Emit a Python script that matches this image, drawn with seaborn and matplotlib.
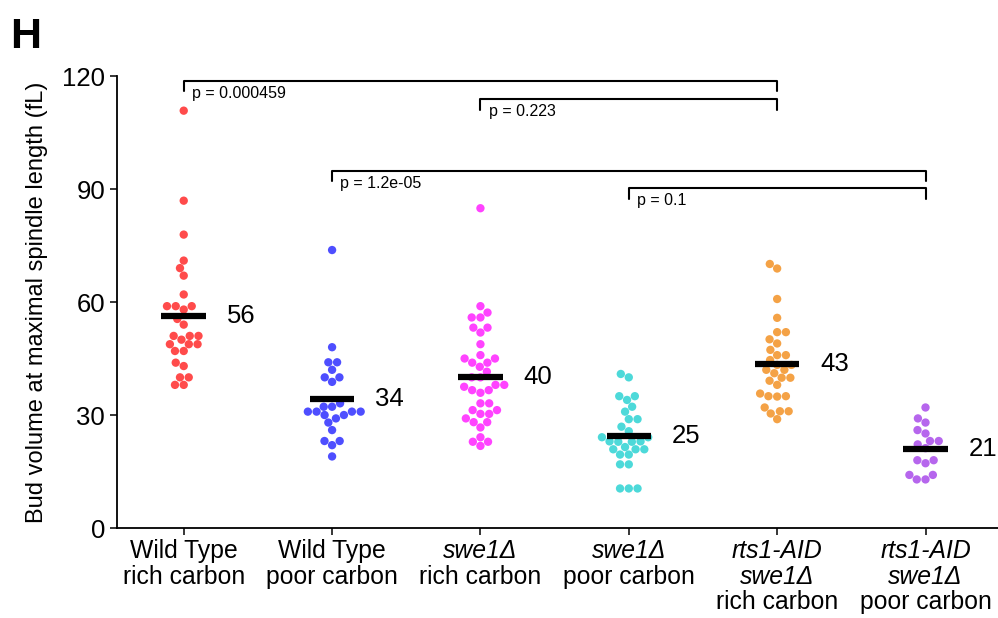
import numpy as np
import pandas as pd
import seaborn as sns
import matplotlib.pyplot as plt

# bud volume (fL) per strain / carbon source
wt_rich = [110.8, 86.9, 77.9, 71, 69, 67, 62, 58.9, 58.9, 58.9, 58, 55.5, 54,
           51, 51, 51, 50, 48.8, 48.8, 48.8, 47, 47, 43.9, 43, 40, 40, 38, 38]
wt_poor = [73.8, 48, 44, 44, 42, 40, 40, 38.8, 33.1, 32.2, 32.2, 30.9, 30.9,
           30.9, 30.9, 30, 30, 29.1, 28, 26, 23.1, 23.1, 22, 19]
swe1_rich = [84.9, 58.9, 57.2, 55.9, 55.9, 53.2, 53.2, 51.9, 48.8, 45.9, 45, 45,
             43.9, 43.9, 42.8, 41.5, 40, 40, 38, 38, 37.5, 36.6, 36.6, 35.9,
             33.1, 33.1, 31.3, 31.3, 30.3, 30.3, 29.1, 28.1, 28.1, 26.7, 24.1,
             22.9, 22.9, 21.8]
swe1_poor = [40.9, 40, 35, 35, 34, 32.2, 30.9, 28.9, 28.9, 26.9, 25.7, 24.1,
             24.1, 22.9, 22.9, 23, 23, 20.9, 20.9, 20.9, 21.5, 19.5, 19.5,
             16.9, 16.9, 10.5, 10.5, 10.5]
rts1_rich = [70.1, 68.9, 60.8, 55.8, 52, 52, 50.1, 49, 47.3, 45.9, 45.9, 44.6,
             43.3, 43.3, 42, 42, 41.1, 39.9, 39.9, 39.1, 38, 35, 35, 35.7, 34.9,
             32, 31, 31, 30.4, 28.9]
rts1_poor = [32, 29.1, 28, 26, 25.1, 23.1, 23.1, 22.2, 21.2, 18, 18, 17.2,
             14.1, 14.1, 12.9, 12.9]

groups = ["wt_rich", "wt_poor", "swe1_rich", "swe1_poor", "rts1_rich", "rts1_poor"]
values = [wt_rich, wt_poor, swe1_rich, swe1_poor, rts1_rich, rts1_poor]
colors = ["#FF2B2B", "#2F2FFF", "#FF22FF", "#2ED3D3", "#F39226", "#A94BEA"]

# tick label lines: (text, italic)
tick_lines = [
    [("Wild Type", False), ("rich carbon", False)],
    [("Wild Type", False), ("poor carbon", False)],
    [("swe1\u0394", True), ("rich carbon", False)],
    [("swe1\u0394", True), ("poor carbon", False)],
    [("rts1-AID", True), ("swe1\u0394", True), ("rich carbon", False)],
    [("rts1-AID", True), ("swe1\u0394", True), ("poor carbon", False)],
]

# comparisons: (group a, group b, bracket height, p label)
comparisons = [
    (0, 4, 118.7, "p = 0.000459"),
    (2, 4, 113.8, "p = 0.223"),
    (1, 5, 94.8, "p = 1.2e-05"),
    (3, 5, 90.2, "p = 0.1"),
]

df = pd.DataFrame({
    "group": np.repeat(groups, [len(v) for v in values]),
    "volume": np.concatenate(values),
})

sns.set_style("ticks")
plt.rcParams["font.family"] = ["Liberation Sans", "DejaVu Sans"]
for key in ["text.color", "axes.labelcolor", "xtick.color", "ytick.color",
            "axes.edgecolor"]:
    plt.rcParams[key] = "black"

fig = plt.figure(figsize=(9.98, 6.18), dpi=100)
ax = fig.add_axes([0.1172, 0.1456, 0.883, 0.7314])

sns.swarmplot(data=df, x="group", y="volume", hue="group", order=groups,
              palette=colors, size=6, alpha=0.85, linewidth=0, legend=False, ax=ax)

# mean bars and labels
for i, v in enumerate(values):
    m = np.mean(v)
    ax.hlines(m, i - 0.15, i + 0.15, color="black", lw=4.5, zorder=5)
    ax.text(i + 0.29, m, f"{m:.0f}", ha="left", va="center", fontsize=18.5)

# significance brackets
for a, b, h, label in comparisons:
    ax.plot([a, a, b, b], [h - 2.8, h, h, h - 2.8], color="black", lw=1.5,
            clip_on=False)
    ax.text(a + 0.055, h - 3.3, label, ha="left", va="center", fontsize=11.5)

ax.set_xlim(-0.45, 5.49)
ax.set_ylim(0, 120)
ax.set_yticks([0, 30, 60, 90, 120])
ax.tick_params(axis="y", labelsize=18.5, length=5, width=1.1)
ax.tick_params(axis="x", length=5, width=1.1)
ax.set_xticks(range(len(groups)))
ax.set_xticklabels([""] * len(groups))
ax.set_xlabel("")
ax.set_ylabel("Bud volume at maximal spindle length (fL)", fontsize=17,
              labelpad=10)
for s in ["left", "bottom"]:
    ax.spines[s].set_linewidth(1.3)
sns.despine(ax=ax)

for i, lines in enumerate(tick_lines):
    for k, (txt, it) in enumerate(lines):
        ax.annotate(txt, xy=(i, 0), xycoords=("data", "axes fraction"),
                    xytext=(0, -8 - 18.4 * k), textcoords="offset points",
                    ha="center", va="top", fontsize=17.8,
                    fontstyle="italic" if it else "normal")

fig.text(0.01, 0.972, "H", fontsize=31, fontweight="bold", ha="left", va="top")

fig.savefig("out.png", dpi=100)
